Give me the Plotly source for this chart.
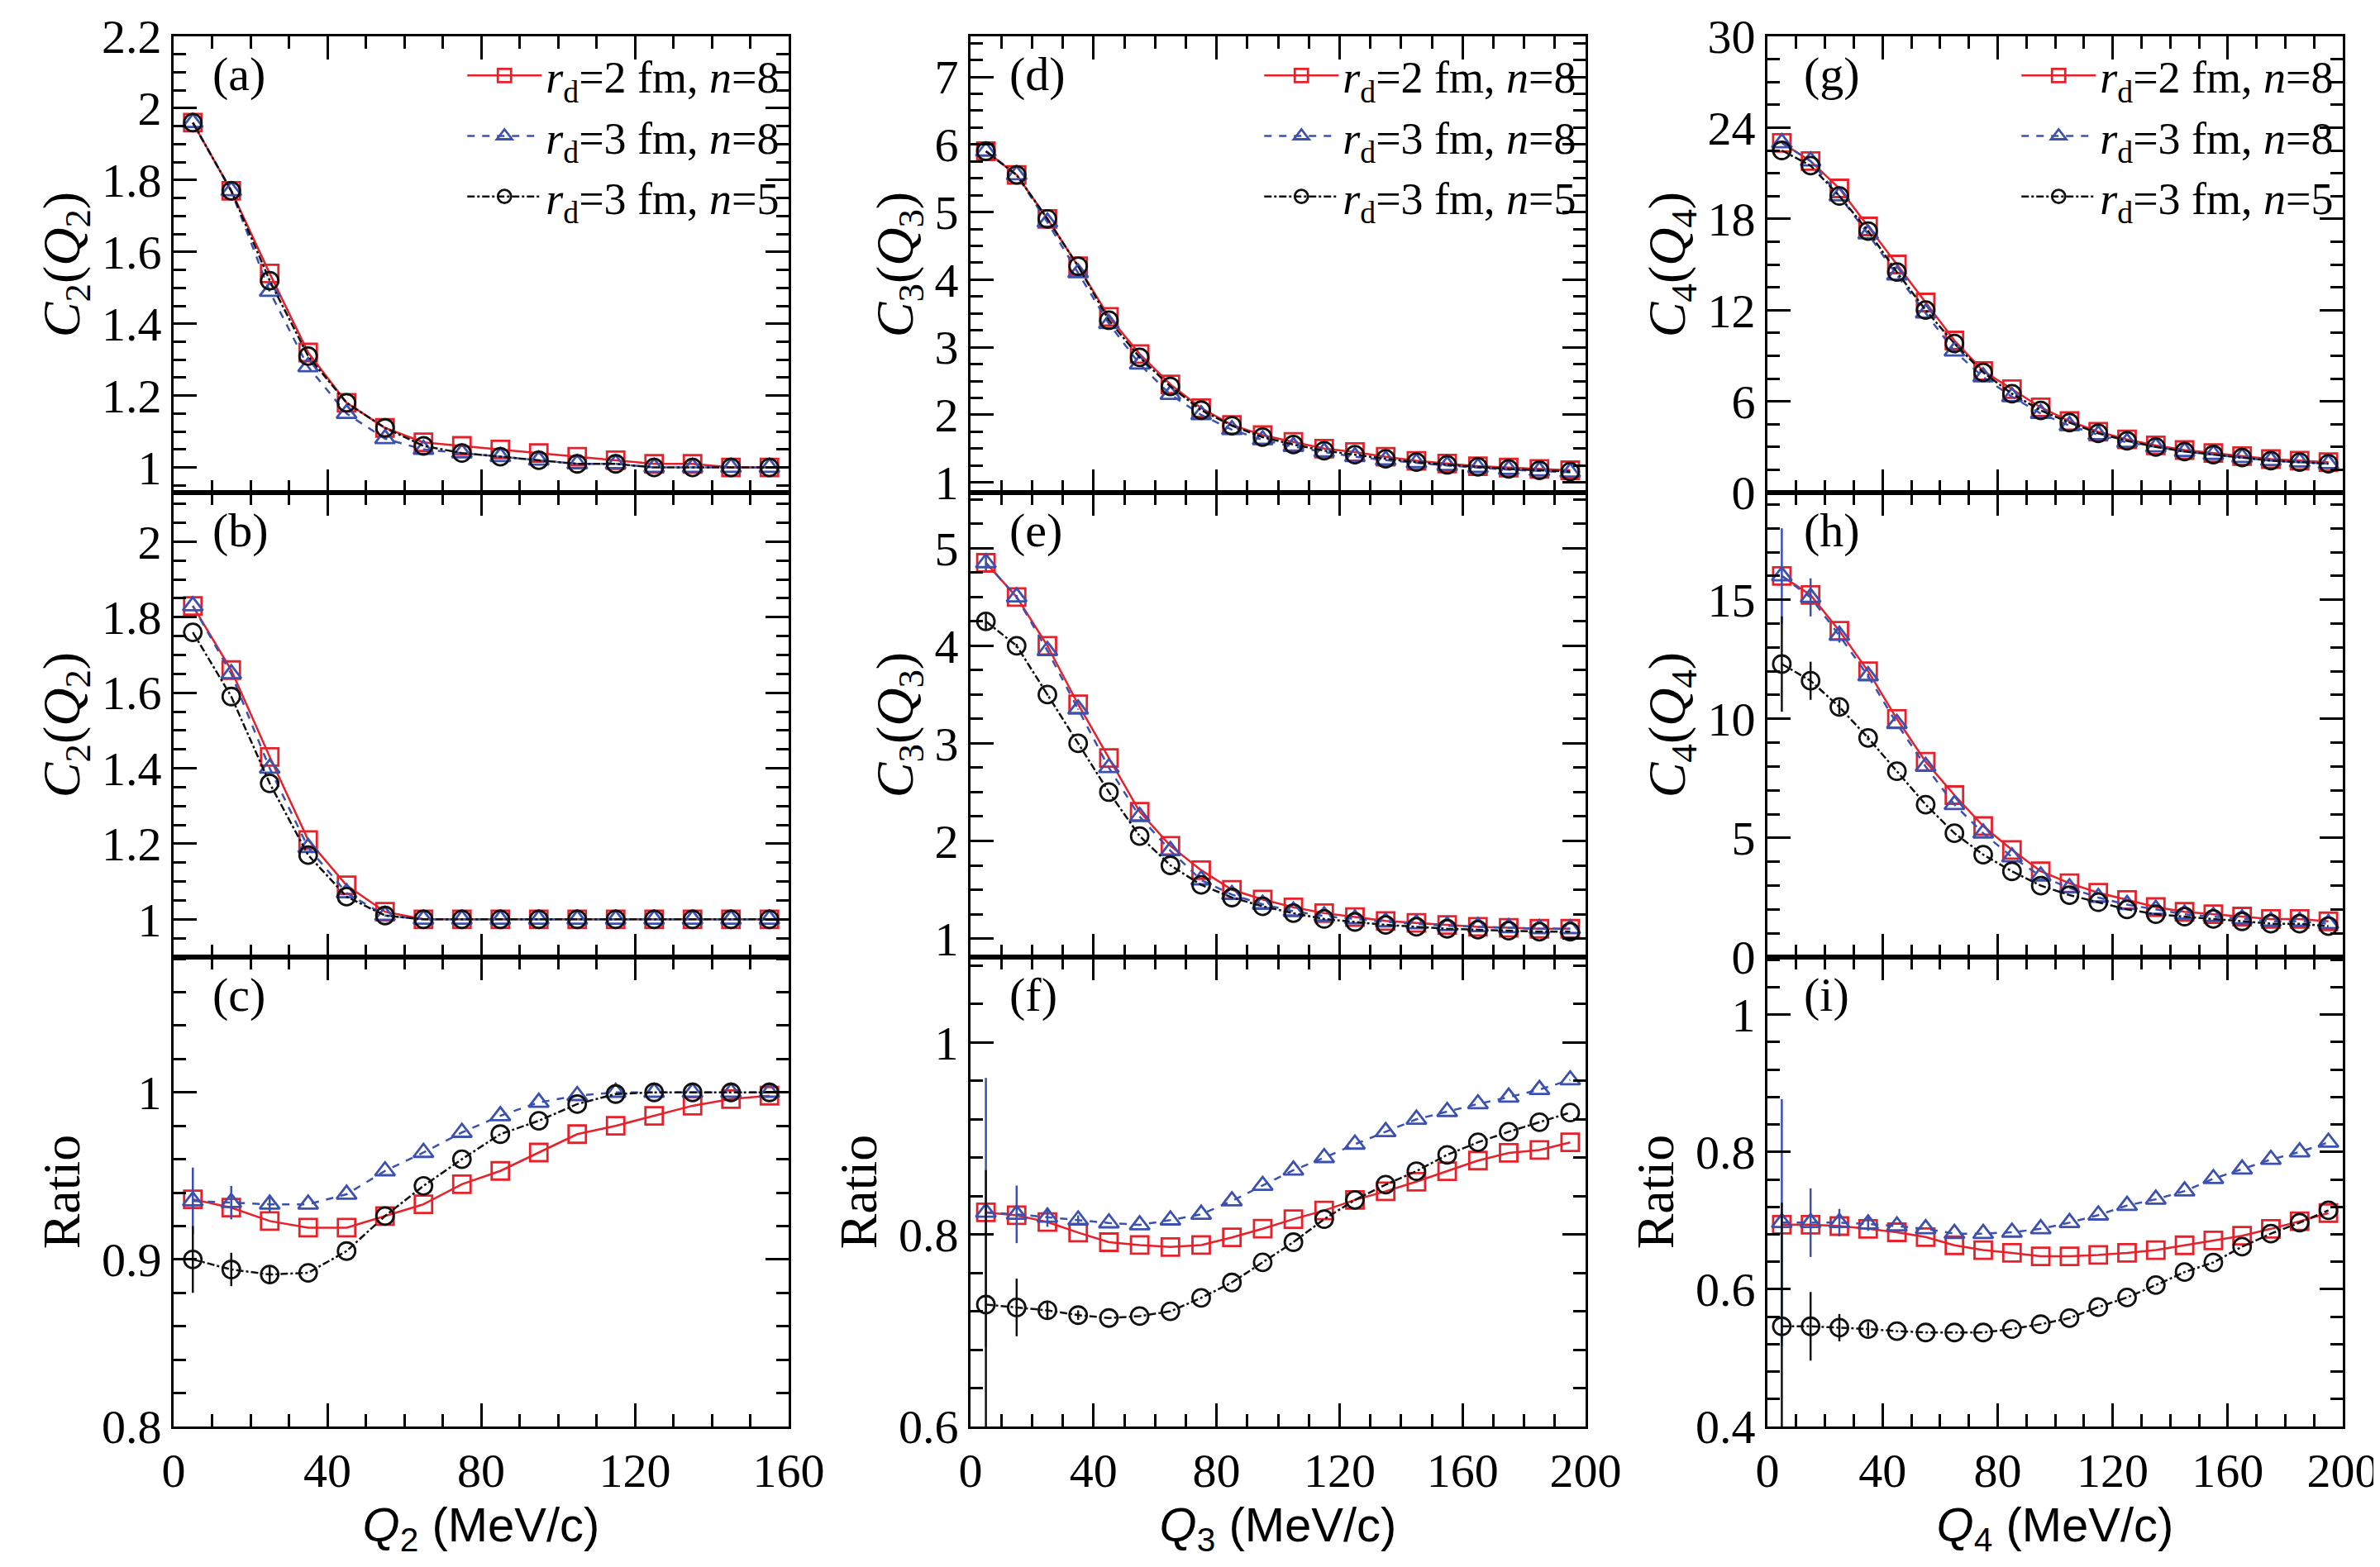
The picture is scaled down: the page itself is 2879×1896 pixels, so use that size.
import plotly.graph_objects as go

# --- data ---
q2 = [5, 15, 25, 35, 45, 55, 65, 75, 85, 95, 105, 115, 125, 135, 145, 155]
q34 = [5, 15, 25, 35, 45, 55, 65, 75, 85, 95, 105, 115, 125, 135, 145, 155, 165, 175, 185, 195]

a_red = [1.96, 1.77, 1.54, 1.32, 1.18, 1.11, 1.07, 1.06, 1.05, 1.04, 1.03, 1.02, 1.01, 1.01, 1.0, 1.0]
a_blue = [1.96, 1.77, 1.49, 1.28, 1.15, 1.08, 1.05, 1.04, 1.03, 1.02, 1.01, 1.01, 1.0, 1.0, 1.0, 1.0]
a_black = [1.96, 1.77, 1.52, 1.31, 1.18, 1.11, 1.06, 1.04, 1.03, 1.02, 1.01, 1.01, 1.0, 1.0, 1.0, 1.0]

b_red = [1.83, 1.66, 1.43, 1.21, 1.09, 1.02, 1.0, 1.0, 1.0, 1.0, 1.0, 1.0, 1.0, 1.0, 1.0, 1.0]
b_blue = [1.83, 1.65, 1.40, 1.19, 1.07, 1.01, 1.0, 1.0, 1.0, 1.0, 1.0, 1.0, 1.0, 1.0, 1.0, 1.0]
b_black = [1.76, 1.59, 1.36, 1.17, 1.06, 1.01, 1.0, 1.0, 1.0, 1.0, 1.0, 1.0, 1.0, 1.0, 1.0, 1.0]

c_red = [0.936, 0.931, 0.923, 0.919, 0.919, 0.926, 0.933, 0.945, 0.953, 0.964, 0.975, 0.980, 0.986, 0.992, 0.996, 0.998]
c_blue = [0.935, 0.934, 0.933, 0.933, 0.939, 0.953, 0.964, 0.976, 0.986, 0.994, 0.998, 1.0, 1.0, 1.0, 1.0, 1.0]
c_black = [0.900, 0.894, 0.891, 0.892, 0.905, 0.926, 0.944, 0.960, 0.975, 0.983, 0.993, 0.999, 1.0, 1.0, 1.0, 1.0]

d_red = [5.9, 5.55, 4.9, 4.2, 3.45, 2.9, 2.45, 2.1, 1.85, 1.7, 1.6, 1.5, 1.45, 1.38, 1.32, 1.28, 1.24, 1.22, 1.2, 1.18]
d_blue = [5.9, 5.55, 4.85, 4.1, 3.35, 2.75, 2.3, 2.0, 1.78, 1.63, 1.53, 1.45, 1.38, 1.33, 1.29, 1.25, 1.22, 1.19, 1.17, 1.15]
d_black = [5.9, 5.55, 4.9, 4.2, 3.4, 2.85, 2.42, 2.07, 1.84, 1.67, 1.56, 1.47, 1.41, 1.35, 1.3, 1.26, 1.23, 1.2, 1.18, 1.16]

e_red = [4.85, 4.5, 4.0, 3.4, 2.85, 2.3, 1.95, 1.7, 1.5, 1.4, 1.32, 1.26, 1.22, 1.18, 1.16, 1.14, 1.12, 1.11, 1.1, 1.1]
e_blue = [4.85, 4.5, 3.95, 3.35, 2.75, 2.25, 1.9, 1.6, 1.45, 1.35, 1.28, 1.23, 1.2, 1.17, 1.15, 1.13, 1.12, 1.11, 1.1, 1.1]
e_black = [4.25, 4.0, 3.5, 3.0, 2.5, 2.05, 1.75, 1.55, 1.42, 1.33, 1.26, 1.2, 1.17, 1.14, 1.12, 1.1, 1.09, 1.08, 1.07, 1.07]

f_red = [0.823, 0.820, 0.813, 0.802, 0.792, 0.789, 0.787, 0.789, 0.797, 0.806, 0.816, 0.825, 0.836, 0.845, 0.855, 0.866, 0.877, 0.885, 0.888, 0.896]
f_blue = [0.823, 0.821, 0.818, 0.815, 0.812, 0.810, 0.815, 0.821, 0.835, 0.851, 0.867, 0.880, 0.894, 0.907, 0.920, 0.928, 0.936, 0.943, 0.951, 0.961]
f_black = [0.727, 0.724, 0.721, 0.716, 0.713, 0.715, 0.720, 0.734, 0.750, 0.771, 0.792, 0.816, 0.836, 0.852, 0.866, 0.883, 0.896, 0.907, 0.917, 0.927]

g_red = [23, 21.8, 20, 17.5, 15, 12.5, 10, 8, 6.8, 5.6, 4.7, 4.0, 3.5, 3.1, 2.8, 2.6, 2.4, 2.2, 2.1, 2.0]
g_blue = [23, 21.8, 19.5, 17, 14.3, 11.8, 9.3, 7.6, 6.3, 5.2, 4.4, 3.8, 3.3, 3.0, 2.7, 2.5, 2.3, 2.1, 2.0, 1.9]
g_black = [22.5, 21.5, 19.5, 17.2, 14.5, 12, 9.8, 7.9, 6.5, 5.4, 4.6, 3.9, 3.4, 3.0, 2.7, 2.5, 2.3, 2.1, 2.0, 1.9]

h_red = [16, 15.2, 13.7, 12, 10, 8.2, 6.8, 5.5, 4.5, 3.6, 3.1, 2.7, 2.4, 2.1, 1.9, 1.8, 1.7, 1.6, 1.6, 1.5]
h_blue = [16, 15.1, 13.5, 11.8, 9.8, 8.0, 6.4, 5.2, 4.2, 3.4, 2.9, 2.5, 2.2, 2.0, 1.8, 1.7, 1.6, 1.5, 1.5, 1.4]
h_black = [12.3, 11.6, 10.5, 9.2, 7.8, 6.4, 5.2, 4.3, 3.6, 3.0, 2.6, 2.3, 2.0, 1.8, 1.7, 1.6, 1.5, 1.4, 1.4, 1.3]

i_red = [0.694, 0.694, 0.692, 0.688, 0.683, 0.676, 0.664, 0.657, 0.653, 0.648, 0.648, 0.650, 0.653, 0.657, 0.664, 0.671, 0.678, 0.688, 0.699, 0.711]
i_blue = [0.697, 0.697, 0.697, 0.695, 0.692, 0.688, 0.681, 0.681, 0.683, 0.688, 0.697, 0.708, 0.722, 0.731, 0.743, 0.761, 0.775, 0.789, 0.800, 0.814]
i_black = [0.546, 0.546, 0.544, 0.542, 0.539, 0.537, 0.537, 0.537, 0.542, 0.549, 0.558, 0.574, 0.588, 0.606, 0.625, 0.639, 0.662, 0.681, 0.697, 0.715]

# error bars on the first few points (ratio and middle panels)
err2 = [0.02, 0.01, 0.005, 0, 0, 0, 0, 0, 0, 0, 0, 0, 0, 0, 0, 0]
err3 = [0.08, 0.02, 0.01, 0.005] + [0] * 16
err_f = [0.14, 0.03, 0.01, 0.005] + [0] * 16
err_i = [0.18, 0.05, 0.02, 0.01] + [0] * 16
err_h = [2.0, 0.8, 0.3, 0.1] + [0] * 16

legend_names = [
    "<i>r</i><sub>d</sub>=2 fm, <i>n</i>=8",
    "<i>r</i><sub>d</sub>=3 fm, <i>n</i>=8",
    "<i>r</i><sub>d</sub>=3 fm, <i>n</i>=5",
]

panels = [
    # (label, x, [red, blue, black], errors, yrange, dtick, minor, ytitle)
    ("(a)", q2, [a_red, a_blue, a_black], None, [0.93, 2.2001], 0.2, 0.05, "<i>C</i><sub>2</sub>(<i>Q</i><sub>2</sub>)"),
    ("(d)", q34, [d_red, d_blue, d_black], None, [0.85, 7.6], 1, 0.25, "<i>C</i><sub>3</sub>(<i>Q</i><sub>3</sub>)"),
    ("(g)", q34, [g_red, g_blue, g_black], None, [0, 30.001], 6, 1.5, "<i>C</i><sub>4</sub>(<i>Q</i><sub>4</sub>)"),
    ("(b)", q2, [b_red, b_blue, b_black], None, [0.9, 2.13], 0.2, 0.05, "<i>C</i><sub>2</sub>(<i>Q</i><sub>2</sub>)"),
    ("(e)", q34, [e_red, e_blue, e_black], err3, [0.81, 5.57], 1, 0.25, "<i>C</i><sub>3</sub>(<i>Q</i><sub>3</sub>)"),
    ("(h)", q34, [h_red, h_blue, h_black], err_h, [0, 19.5], 5, 1, "<i>C</i><sub>4</sub>(<i>Q</i><sub>4</sub>)"),
    ("(c)", q2, [c_red, c_blue, c_black], err2, [0.8, 1.081], 0.1, 0.02, "Ratio"),
    ("(f)", q34, [f_red, f_blue, f_black], err_f, [0.6, 1.089], 0.2, 0.04, "Ratio"),
    ("(i)", q34, [i_red, i_blue, i_black], err_i, [0.4, 1.084], 0.2, 0.04, "Ratio"),
]

colors = ["#e8202a", "#3c50b0", "#111111"]
symbols = ["square-open", "triangle-up-open", "circle-open"]
dashes = ["solid", "dash", "dashdot"]

W, H = 2879, 1896
col_dom = [[202 / W, 946 / W], [1166 / W, 1910 / W], [2130 / W, 2826 / W]]
row_px = [(36, 588), (588, 1150), (1150, 1718)]
row_dom = [[1 - b / H, 1 - t / H] for t, b in row_px]
xtitles = ["<i>Q</i><sub>2</sub> (MeV/c)", "<i>Q</i><sub>3</sub> (MeV/c)", "<i>Q</i><sub>4</sub> (MeV/c)"]

SERIF = "Liberation Serif"
fig = go.Figure()
layout = {}
annotations = []

for k, (lab, xs, ys, errs, yr, dt, mn, ytitle) in enumerate(panels):
    r, c = divmod(k, 3)
    n = k + 1
    xa = "x" if n == 1 else f"x{n}"
    ya = "y" if n == 1 else f"y{n}"
    top = r == 0
    for s in range(3):
        err = None
        if errs is not None and s > 0:
            err = dict(type="data", array=errs, visible=True, color=colors[s], thickness=2.5, width=0)
        fig.add_trace(go.Scatter(
            x=xs, y=ys[s], xaxis=xa, yaxis=ya, mode="lines+markers",
            name=legend_names[s], showlegend=top,
            legend="legend" if c == 0 else f"legend{c + 1}",
            line=dict(color=colors[s], width=2.5, dash=dashes[s]),
            marker=dict(symbol=symbols[s], size=21, color=colors[s], line=dict(width=2.8, color=colors[s])),
            error_y=err,
        ))
    xmax = 160 if c == 0 else 200
    common = dict(
        showline=True, linecolor="black", linewidth=3, mirror="ticks",
        ticks="inside", ticklen=28, tickwidth=3, tickcolor="black",
        showgrid=False, zeroline=False, ticklabeloverflow="allow", automargin=False,
        tickfont=dict(family=SERIF, size=58, color="black"),
    )
    layout["xaxis" if n == 1 else f"xaxis{n}"] = dict(
        common, domain=col_dom[c], anchor=ya, range=[0, xmax], dtick=40,
        minor=dict(dtick=10, ticks="inside", ticklen=15, tickwidth=3, tickcolor="black"),
        showticklabels=(r == 2),
        title=dict(text=xtitles[c] if r == 2 else "", font=dict(family="Liberation Sans", size=58, color="black"), standoff=8),
    )
    layout["yaxis" if n == 1 else f"yaxis{n}"] = dict(
        common, domain=row_dom[r], anchor=xa, range=yr, dtick=dt, tick0=0,
        minor=dict(dtick=mn, ticks="inside", ticklen=15, tickwidth=3, tickcolor="black"),
        title=dict(text=ytitle, font=dict(family=SERIF, size=64, color="black"), standoff=6),
    )
    annotations.append(dict(
        text=lab, xref=f"{xa} domain", yref=f"{ya} domain", x=0.06, y=0.98,
        xanchor="left", yanchor="top", showarrow=False,
        font=dict(family=SERIF, size=58, color="black"),
    ))

for c in range(3):
    key = "legend" if c == 0 else f"legend{c + 1}"
    layout[key] = dict(
        x=col_dom[c][1] - 0.002, y=row_dom[0][1] - 0.003, xanchor="right", yanchor="top",
        bgcolor="rgba(0,0,0,0)", font=dict(family=SERIF, size=54, color="black"),
        itemwidth=90, tracegroupgap=0,
    )

fig.update_layout(
    **layout,
    annotations=annotations,
    width=W, height=H,
    margin=dict(l=0, r=0, t=0, b=0),
    paper_bgcolor="white", plot_bgcolor="white",
)

fig.write_html("out.html")
